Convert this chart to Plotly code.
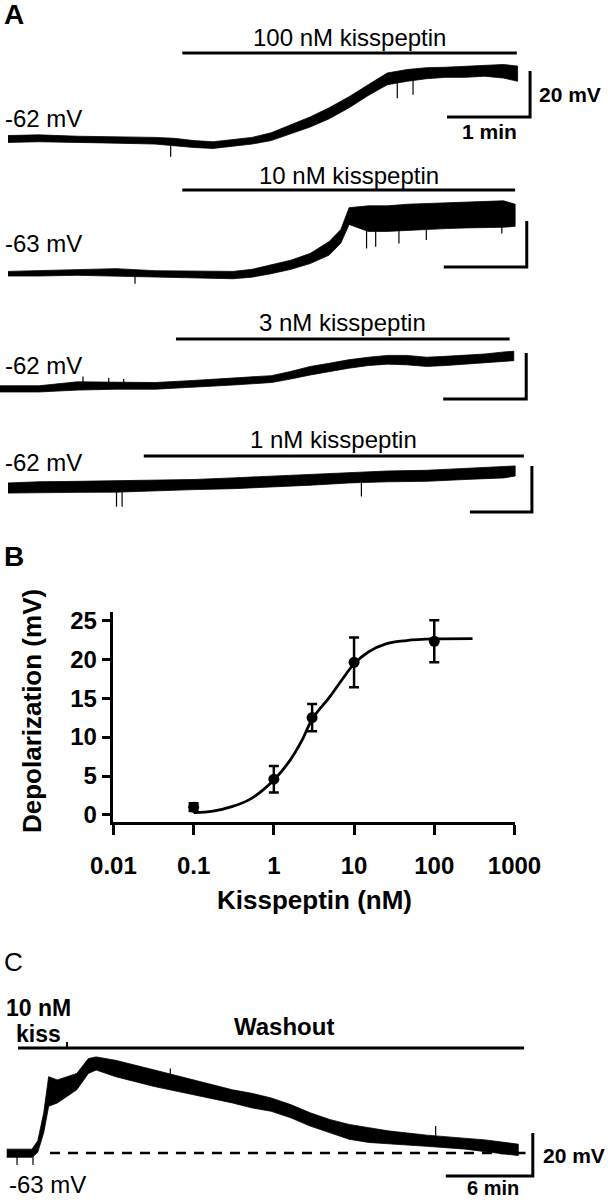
import plotly.graph_objects as go

W, H = 608, 1200
FONT = "Liberation Sans, Arial, Helvetica, sans-serif"

# ---------------- DATA ----------------
# Panel A: membrane-potential recordings, envelope of the noisy trace (time in min, mV)
a1_t = [0.0, 0.37, 0.84, 1.30, 1.77, 2.00, 2.24, 2.47, 2.71, 2.94, 3.17, 3.41, 3.64, 3.87, 4.11, 4.34, 4.57, 4.81, 5.04, 5.27, 5.51, 5.74, 5.97, 6.14]
a1_hi = [-60.5, -60.2, -60.8, -61.0, -61.3, -61.7, -62.7, -63.2, -62.3, -61.3, -59.3, -55.8, -52.4, -48.4, -43.6, -38.4, -33.3, -31.8, -31.0, -30.8, -30.3, -29.9, -29.6, -30.3]
a1_lo = [-63.5, -63.2, -63.5, -63.8, -64.2, -64.9, -65.7, -66.1, -65.2, -64.2, -62.7, -59.8, -56.8, -53.2, -48.4, -43.1, -38.4, -36.9, -35.8, -35.2, -35.2, -34.7, -35.5, -36.9]
a1_spk_t = [1.96, 4.69, 4.88]
a1_spk_base = [-64.5, -35.5, -35.0]
a1_spk_tip = [-69.7, -44.3, -42.8]

a2_t = [0.0, 0.37, 0.84, 1.30, 1.77, 2.24, 2.71, 2.94, 3.17, 3.41, 3.64, 3.87, 4.01, 4.11, 4.34, 4.57, 4.81, 5.04, 5.27, 5.51, 5.74, 5.97, 6.11]
a2_hi = [-62.0, -61.7, -61.1, -60.8, -61.7, -62.0, -62.0, -61.1, -59.3, -57.1, -54.2, -49.0, -43.8, -34.3, -33.5, -33.5, -32.8, -32.5, -32.0, -31.6, -31.3, -31.3, -32.8]
a2_lo = [-64.0, -64.0, -63.7, -64.0, -64.5, -64.9, -65.2, -64.5, -63.0, -61.1, -58.6, -54.9, -49.7, -41.6, -44.6, -44.6, -44.3, -43.8, -43.4, -43.1, -42.8, -42.8, -42.4]
a2_spk_t = [1.53, 4.32, 4.43, 4.71, 5.04, 5.95]
a2_spk_base = [-64.0, -42.0, -42.0, -42.0, -42.0, -42.0]
a2_spk_tip = [-67.4, -52.0, -51.3, -49.9, -48.4, -45.5]

a3_t = [0.0, 0.47, 0.93, 1.40, 1.87, 2.33, 2.80, 3.27, 3.50, 3.74, 3.97, 4.20, 4.44, 4.67, 4.90, 5.14, 5.37, 5.60, 5.84, 6.07, 6.19]
a3_hi = [-60.5, -60.5, -58.8, -58.8, -59.1, -58.2, -57.0, -56.1, -54.3, -52.1, -50.7, -49.2, -48.1, -47.3, -47.3, -48.1, -47.7, -47.3, -46.7, -45.8, -45.5]
a3_lo = [-63.2, -63.2, -62.4, -62.0, -62.0, -61.1, -60.2, -59.1, -57.6, -55.8, -54.3, -52.9, -51.7, -51.1, -51.4, -52.1, -51.7, -51.4, -50.7, -49.9, -49.6]
a3_spk_t = [1.00, 1.31, 1.49]
a3_spk_base = [-59.5, -59.5, -59.5]
a3_spk_tip = [-56.5, -57.0, -57.6]

a4_t = [0.0, 0.50, 1.12, 1.75, 2.37, 3.00, 3.62, 4.25, 4.87, 5.50, 6.12, 6.75, 7.37, 8.00, 8.18]
a4_hi = [-59.8, -59.3, -59.1, -58.8, -58.5, -58.3, -57.6, -56.8, -56.1, -55.4, -54.6, -54.3, -53.5, -52.9, -52.4]
a4_lo = [-64.2, -64.2, -63.9, -63.8, -63.2, -62.7, -62.3, -61.7, -60.8, -59.8, -59.3, -59.1, -58.3, -57.6, -56.8]
a4_spk_t = [1.75, 1.84, 5.70]
a4_spk_base = [-63.5, -63.5, -59.5]
a4_spk_tip = [-70.1, -70.1, -65.7]

a_labels = ["100 nM kisspeptin", "10 nM kisspeptin", "3 nM kisspeptin", "1 nM kisspeptin"]
a_rest = ["-62 mV", "-63 mV", "-62 mV", "-62 mV"]
a_rest_mv = [-62, -63, -62, -62]
a_drug_on = [2.10, 2.10, 2.12, 2.19]
a_drug_off = [6.13, 6.11, 6.14, 8.32]

# Panel B: dose-response
conc = [0.1, 1, 3, 10, 100]
depol = [1.0, 4.6, 12.5, 19.6, 22.3]
sem = [0.5, 1.7, 1.75, 3.2, 2.7]
fit_conc = [0.1, 0.174, 0.30, 0.52, 1.0, 1.6, 2.25, 3.0, 5.0, 7.0, 10, 14.9, 25.5, 45, 100, 300]
fit_depol = [0.3, 0.5, 1.07, 2.1, 4.5, 7.05, 9.6, 12.3, 15.2, 17.3, 19.4, 20.9, 22.0, 22.4, 22.6, 22.65]
b_xticks = [0.01, 0.1, 1, 10, 100, 1000]
b_xticktext = ["0.01", "0.1", "1", "10", "100", "1000"]
b_yticks = [0, 5, 10, 15, 20, 25]

# Panel C: washout recording (time in min, mV)
c_t = [0.12, 1.86, 2.26, 2.67, 3.01, 3.61, 4.95, 5.75, 6.29, 7.63, 10.31, 13.0, 15.68, 17.0, 18.36, 19.7, 21.05, 22.39, 23.73, 25.08, 26.41, 29.1, 31.78, 33.12, 35.4]
c_hi = [-61.2, -61.2, -57.3, -44.3, -27.5, -29.0, -26.0, -19.1, -18.3, -19.9, -24.4, -29.0, -33.6, -35.2, -37.4, -40.5, -44.3, -47.4, -49.7, -51.2, -52.7, -54.7, -56.3, -56.9, -58.9]
c_lo = [-65.0, -65.0, -62.7, -53.5, -41.3, -39.7, -33.6, -26.0, -24.4, -27.5, -32.1, -35.9, -39.7, -42.0, -43.6, -46.6, -50.5, -53.5, -56.6, -58.1, -58.9, -59.9, -61.2, -62.4, -64.2]
c_spk_t = [0.83, 1.93, 11.4, 29.7]
c_spk_base = [-63.0, -63.0, -30.0, -55.0]
c_spk_tip = [-68.6, -68.6, -23.7, -50.5]
c_rest = -63
c_drug_on, c_drug_off = 0.9, 4.28
c_wash_off = 35.8

# ---------------- LAYOUT HELPERS ----------------
def px_x(px):
    return px / W

def px_y(py):
    return 1 - py / H

def trace_axes(x0, k, band, ref_px, ref_mv, s):
    top, bot = band
    xr = [(0 - x0) / k, (W - x0) / k]
    yr = [ref_mv - (bot - ref_px) / s, ref_mv + (ref_px - top) / s]
    return xr, [1 - bot / H, 1 - top / H], yr

fig = go.Figure()
shapes = []
annotations = []
BLACK = "#000000"

def add_band(t, hi, lo, xa, ya, lw=0.8):
    fig.add_trace(go.Scatter(x=list(t) + list(t)[::-1], y=list(hi) + list(lo)[::-1],
                             fill="toself", fillcolor=BLACK, mode="lines",
                             line=dict(color=BLACK, width=lw), xaxis=xa, yaxis=ya,
                             hoverinfo="skip", showlegend=False))

def add_spikes(t, base, tip, xa, ya):
    xs, ys = [], []
    for a, b, c in zip(t, base, tip):
        xs += [a, a, None]
        ys += [b, c, None]
    fig.add_trace(go.Scatter(x=xs, y=ys, mode="lines", line=dict(color=BLACK, width=1.2),
                             xaxis=xa, yaxis=ya, hoverinfo="skip", showlegend=False))

def ann(text, x, y, size, xanchor="left", xref="paper", bold=False, textangle=0):
    annotations.append(dict(text=("<b>%s</b>" % text) if bold else text,
                            x=x if xref != "paper" else px_x(x), y=px_y(y),
                            xref=xref, yref="paper", xanchor=xanchor, yanchor="middle",
                            showarrow=False, textangle=textangle, borderpad=0,
                            font=dict(family=FONT, size=size, color=BLACK)))

layout_axes = {}

# ---------------- PANEL A ----------------
a_series = [(a1_t, a1_hi, a1_lo, a1_spk_t, a1_spk_base, a1_spk_tip),
            (a2_t, a2_hi, a2_lo, a2_spk_t, a2_spk_base, a2_spk_tip),
            (a3_t, a3_hi, a3_lo, a3_spk_t, a3_spk_base, a3_spk_tip),
            (a4_t, a4_hi, a4_lo, a4_spk_t, a4_spk_base, a4_spk_tip)]
# geometry per trace: x origin px, px/min, y band px, resting level px, bar y, label y, rest label y, scale-bar corner (min, mV)
a_geom = [
    dict(x0=8, k=83, band=(45, 165), ref=139.0, bar=53, lab=38, rest=118, sb=(6.29, -52.4)),
    dict(x0=8, k=83, band=(195, 300), ref=273.7, bar=190, lab=175, rest=243, sb=(6.25, -60.1)),
    dict(x0=0, k=83, band=(345, 425), ref=389.2, bar=339, lab=322, rest=366, sb=(6.34, -66.3)),
    dict(x0=8, k=62, band=(460, 530), ref=488.0, bar=456, lab=439, rest=463, sb=(8.45, -72.4)),
]
S_A = 2.3  # px per mV

for i, (ser, g) in enumerate(zip(a_series, a_geom)):
    n = i + 1
    xa = "x" if n == 1 else "x%d" % n
    ya = "y" if n == 1 else "y%d" % n
    xr, ydom, yr = trace_axes(g["x0"], g["k"], g["band"], g["ref"], a_rest_mv[i], S_A)
    layout_axes["xaxis" if n == 1 else "xaxis%d" % n] = dict(domain=[0, 1], range=xr, visible=False,
                                                             anchor=ya, fixedrange=True, automargin=False)
    layout_axes["yaxis" if n == 1 else "yaxis%d" % n] = dict(domain=ydom, range=yr, visible=False,
                                                             anchor=xa, fixedrange=True, automargin=False)
    t, hi, lo, st, sbase, stip = ser
    add_band(t, hi, lo, xa, ya)
    add_spikes(st, sbase, stip, xa, ya)
    # drug application bar
    shapes.append(dict(type="line", xref=xa, yref="paper", x0=a_drug_on[i], x1=a_drug_off[i],
                       y0=px_y(g["bar"]), y1=px_y(g["bar"]), line=dict(color=BLACK, width=3)))
    ann(a_labels[i], (a_drug_on[i] + a_drug_off[i]) / 2, g["lab"], 24, xanchor="center", xref=xa)
    ann(a_rest[i], 4, g["rest"], 24)
    # scale bar: 1 min x 20 mV
    sx, sy = g["sb"]
    shapes.append(dict(type="path", xref=xa, yref=ya,
                       path="M %f,%f L %f,%f L %f,%f" % (sx - 1, sy, sx, sy, sx, sy + 20),
                       line=dict(color=BLACK, width=3)))

ann("20 mV", 538, 94, 21, bold=True)
ann("1 min", 489, 132, 21, xanchor="center", bold=True)
ann("A", 3, 15, 28, bold=True)

# ---------------- PANEL B ----------------
b_top, b_bot, b_left, b_right = 611.7, 822.3, 113.4, 514.5
layout_axes["xaxis5"] = dict(domain=[px_x(b_left), px_x(b_right)], type="log", range=[-2, 3],
                             anchor="y5", showline=True, linecolor=BLACK, linewidth=2.5,
                             ticks="outside", ticklen=10, tickwidth=2.5, tickcolor=BLACK,
                             tickvals=b_xticks, ticktext=b_xticktext, showgrid=False, zeroline=False,
                             ticklabelstandoff=10, automargin=False,
                             tickfont=dict(family=FONT, size=24, color=BLACK, weight="bold"),
                             fixedrange=True)
layout_axes["yaxis5"] = dict(domain=[px_y(b_bot), px_y(b_top)], range=[-0.94, 26.1],
                             anchor="x5", showline=True, linecolor=BLACK, linewidth=2.5,
                             ticks="outside", ticklen=9, tickwidth=2.5, tickcolor=BLACK,
                             tickvals=b_yticks, showgrid=False, zeroline=False, automargin=False,
                             tickfont=dict(family=FONT, size=24, color=BLACK, weight="bold"),
                             fixedrange=True)
fig.add_trace(go.Scatter(x=fit_conc, y=fit_depol, mode="lines", line=dict(color=BLACK, width=2.8, shape="spline"),
                         xaxis="x5", yaxis="y5", showlegend=False, hoverinfo="skip"))
fig.add_trace(go.Scatter(x=conc, y=depol, mode="markers",
                         marker=dict(color=BLACK, size=11, symbol="circle"),
                         error_y=dict(type="data", array=sem, visible=True, color=BLACK,
                                      thickness=2.5, width=5),
                         xaxis="x5", yaxis="y5", showlegend=False))
ann("B", 3, 557, 28, bold=True)
ann("Depolarization (mV)", 32, 711, 26, xanchor="center", bold=True, textangle=-90)
ann("Kisspeptin (nM)", 314, 900, 26, xanchor="center", bold=True)

# ---------------- PANEL C ----------------
xr6, ydom6, yr6 = trace_axes(5, 14.5, (1040, 1200), 1153, c_rest, 2.15)
layout_axes["xaxis6"] = dict(domain=[0, 1], range=xr6, visible=False, anchor="y6", fixedrange=True, automargin=False)
layout_axes["yaxis6"] = dict(domain=ydom6, range=yr6, visible=False, anchor="x6", fixedrange=True, automargin=False)
# dashed resting level
shapes.append(dict(type="line", xref="x6", yref="y6", x0=3.1, x1=35.9, y0=c_rest, y1=c_rest,
                   line=dict(color=BLACK, width=2.5, dash="10px,8px")))
add_band(c_t, c_hi, c_lo, "x6", "y6")
add_spikes(c_spk_t, c_spk_base, c_spk_tip, "x6", "y6")
# application / washout bar with tick at end of kisspeptin
shapes.append(dict(type="line", xref="x6", yref="paper", x0=c_drug_on, x1=c_wash_off,
                   y0=px_y(1048), y1=px_y(1048), line=dict(color=BLACK, width=3)))
shapes.append(dict(type="line", xref="x6", yref="paper", x0=c_drug_off, x1=c_drug_off,
                   y0=px_y(1048), y1=px_y(1042), line=dict(color=BLACK, width=2)))
# scale bar 6 min x 20 mV
shapes.append(dict(type="path", xref="x6", yref="y6",
                   path="M %f,%f L %f,%f L %f,%f" % (30.4, -73.7, 36.4, -73.7, 36.4, -53.7),
                   line=dict(color=BLACK, width=3)))
ann("C", 3, 962, 26)
ann("10 nM", 5, 1008, 23, bold=True)
ann("kiss", 15, 1034, 23, bold=True)
ann("Washout", 284, 1026, 24, xanchor="center", bold=True)
ann("-63 mV", 8, 1184, 24)
ann("20 mV", 542, 1155, 21, bold=True)
ann("6 min", 493, 1188, 20, xanchor="center", bold=True)

fig.update_layout(width=W, height=H, margin=dict(l=0, r=0, t=0, b=0, pad=0, autoexpand=False),
                  paper_bgcolor="white", plot_bgcolor="rgba(0,0,0,0)",
                  showlegend=False, shapes=shapes, annotations=annotations,
                  font=dict(family=FONT, color=BLACK), **layout_axes)

# remove the browser's default 8px page margin so the 608x1200 figure fills the window exactly
fig.write_html("out.html", config={"displayModeBar": False},
               post_script="document.documentElement.style.margin='0';document.documentElement.style.padding='0';"
                           "document.body.style.margin='0';document.body.style.padding='0';"
                           "document.body.style.overflow='hidden';")
